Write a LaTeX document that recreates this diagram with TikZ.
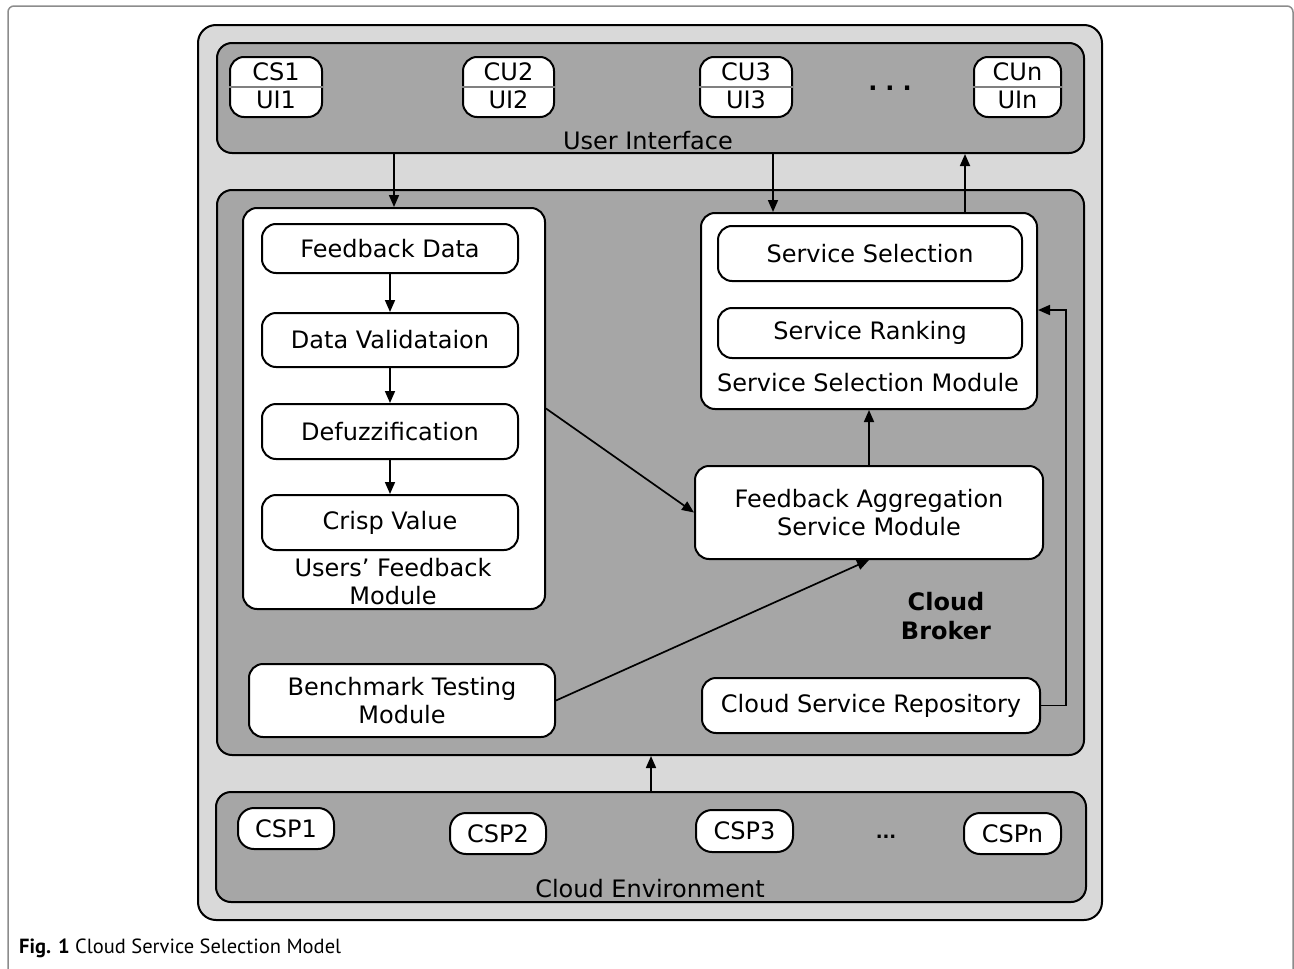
\documentclass[tikz,border=0pt]{standalone}
\usepackage{fontspec}
\setmainfont{DejaVu Sans}
\newfontfamily\capfont{PT Sans}
\usetikzlibrary{arrows.meta,calc}
\definecolor{lgray}{HTML}{D9D9D9}
\definecolor{dgray}{HTML}{A6A6A6}
\definecolor{frameg}{HTML}{8C8C8C}
\begin{document}
\begin{tikzpicture}[x=1pt,y=-1pt,
  font=\fontsize{24}{28}\selectfont,
  container/.style={draw, line width=2pt, rounded corners=15pt, inner sep=0pt},
  wbox/.style={draw, line width=2pt, fill=white, rounded corners=14pt, inner sep=0pt, align=center},
  arr/.style={line width=1.7pt, -{Triangle[length=12pt,width=10pt]}},
  lbl/.style={inner sep=0pt, anchor=base, align=center},
  txt/.style={inner sep=0pt, align=center}]
\useasboundingbox (0,0) rectangle (1294,969);
% figure frame
\draw[frameg, line width=1.5pt, rounded corners=6pt] (8,1000) -- (8,6) -- (1293,6) -- (1293,1000);
% containers
\node[container, fill=lgray, rounded corners=18pt, minimum width=904pt, minimum height=895pt] (outer) at (650,472.5) {};
\node[container, fill=dgray, minimum width=867pt, minimum height=110pt] (ui) at (650.5,98) {};
\node[container, fill=dgray, minimum width=867pt, minimum height=565pt] (broker) at (650.5,472.5) {};
\node[container, fill=dgray, minimum width=870pt, minimum height=110pt] (env) at (651,847) {};
% user interface
\foreach \n/\cx/\w/\t/\b in {c1/276/92/CS1/UI1, c2/508.5/91/CU2/UI2, c3/746/92/CU3/UI3, cn/1017.5/87/CUn/UIn}{
  \node[wbox, minimum width=\w pt, minimum height=60pt] (\n) at (\cx,87) {};
  \draw[gray, line width=1.3pt] (\n.west) -- (\n.east);
  \node[txt] (\n t) at (\cx,72) {\t};
  \node[txt] (\n b) at (\cx,100) {\b};
}
\node[txt] (dots1) at (890,88) {\textbf{.\hspace{8pt}.\hspace{8pt}.}};
\node[lbl] (uil) at (648,149) {User Interface};
% users' feedback module
\node[wbox, minimum width=302pt, minimum height=401pt] (ufm) at (394,408.5) {};
\node[wbox, minimum width=256pt, minimum height=49pt] (fd) at (390,248.5) {Feedback Data};
\node[wbox, minimum width=256pt, minimum height=54pt] (dv) at (390,340) {Data Validataion};
\node[wbox, minimum width=256pt, minimum height=55pt] (df) at (390,431.5) {Defuzzification};
\node[wbox, minimum width=256pt, minimum height=55pt] (cv) at (390,522.5) {Crisp Value};
\node[txt] (ufml) at (393,582) {Users’ Feedback\\Module};
% service selection module
\node[wbox, minimum width=336pt, minimum height=196pt] (ssm) at (869,311) {};
\node[wbox, minimum width=304pt, minimum height=55pt] (ss) at (870,253.5) {Service Selection};
\node[wbox, minimum width=304pt, minimum height=50pt] (sr) at (870,333) {Service Ranking};
\node[lbl] (ssml) at (868,391) {Service Selection Module};
% other modules
\node[wbox, minimum width=348pt, minimum height=93pt] (fasm) at (869,512.5) {Feedback Aggregation\\Service Module};
\node[wbox, minimum width=306pt, minimum height=73pt] (btm) at (402,700.5) {Benchmark Testing\\Module};
\node[wbox, minimum width=338pt, minimum height=55pt] (csr) at (871,705.5) {Cloud Service Repository};
\node[txt, font=\fontsize{24}{29}\selectfont\bfseries] (cbl) at (946,616.5) {Cloud\\Broker};
% cloud environment
\node[wbox, rounded corners=16pt, minimum width=96pt, minimum height=41pt] (csp1) at (286,828.5) {CSP1};
\node[wbox, rounded corners=16pt, minimum width=96pt, minimum height=41pt] (csp2) at (498,833.5) {CSP2};
\node[wbox, rounded corners=16pt, minimum width=97pt, minimum height=42pt] (csp3) at (744.5,831) {CSP3};
\node[wbox, rounded corners=16pt, minimum width=97pt, minimum height=41pt] (cspn) at (1012.5,833.5) {CSPn};
\node[txt, font=\fontsize{18}{18}\selectfont\bfseries] (dots2) at (886,837) {...};
\node[lbl] (envl) at (650,897) {Cloud Environment};
% arrows
\coordinate (xa) at (773,0);
\coordinate (xb) at (965,0);
\coordinate (xr) at (1066,310);
\draw[arr] (ui.south -| ufm.north) -- (ufm.north);
\draw[arr] (ui.south -| xa) -- (ssm.north -| xa);
\draw[arr] (ssm.north -| xb) -- (ui.south -| xb);
\draw[arr] (fd.south) -- (dv.north);
\draw[arr] (dv.south) -- (df.north);
\draw[arr] (df.south) -- (cv.north);
\draw[arr] (ufm.east) -- (fasm.west);
\draw[arr] (btm.east) -- (fasm.south);
\draw[arr] (fasm.north) -- (ssm.south);
\draw[arr] (csr.east) -| (xr) -- (ssm.east |- xr);
\draw[arr] (env.north) -- (env.north |- broker.south);
% caption
\node[anchor=base west, inner sep=0pt, font=\capfont\fontsize{20.5}{24}\selectfont] (cap) at (19,953) {\textbf{Fig. 1} Cloud Service Selection Model};
\end{tikzpicture}
\end{document}
